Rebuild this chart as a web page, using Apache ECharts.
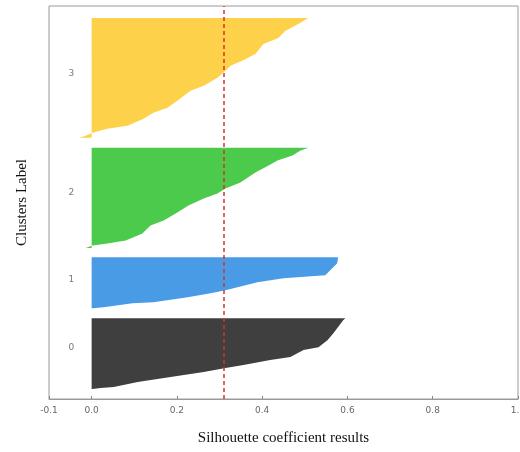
<!DOCTYPE html>
<html>
<head>
<meta charset="utf-8">
<script src="https://cdn.jsdelivr.net/npm/echarts@6/dist/echarts.min.js"></script>
<style>
  html, body { margin: 0; padding: 0; background: #fff; }
  #main { width: 520px; height: 452px; }
</style>
</head>
<body>
<div id="main"></div>
<script>
// silhouette profile of each cluster, [value, sample position] read bottom -> top
var cluster0 = [[0.002, 10], [0.021, 11], [0.052, 12], [0.108, 17], [0.185, 22], [0.263, 27], [0.314, 31],
  [0.356, 34], [0.419, 39], [0.466, 42], [0.497, 49], [0.532, 52], [0.553, 59], [0.567, 66], [0.590, 79], [0.595, 81]];
var cluster1 = [[0.002, 91], [0.028, 92], [0.096, 96], [0.145, 97], [0.225, 102], [0.279, 106], [0.314, 109],
  [0.342, 112], [0.389, 117], [0.450, 121], [0.548, 124], [0.576, 136], [0.578, 142]];
var cluster2 = [[-0.014, 151.5], [0.002, 154], [0.037, 156], [0.080, 159], [0.119, 166], [0.138, 174], [0.169, 179],
  [0.201, 187], [0.227, 194], [0.263, 201], [0.295, 206], [0.314, 211], [0.349, 217], [0.384, 227], [0.415, 234],
  [0.436, 239], [0.471, 244], [0.489, 249], [0.508, 252]];
var cluster3 = [[-0.030, 262], [-0.014, 264], [0.002, 267], [0.037, 271], [0.084, 274], [0.122, 281], [0.145, 287],
  [0.178, 292], [0.201, 299], [0.232, 309], [0.263, 314], [0.295, 322], [0.314, 329], [0.326, 334], [0.353, 339],
  [0.384, 346], [0.403, 356], [0.438, 362], [0.454, 369], [0.489, 377], [0.508, 382]];

var clusterNames = ['0', '1', '2', '3'];
var clusterLabelY = [51, 120, 207, 326];
var clusterColors = ['#3f3f3f', '#4a9be6', '#4cca4c', '#fdd24a'];
var avgScore = 0.313;
var xTicks = [-0.1, 0, 0.2, 0.4, 0.6, 0.8, 1.0];

var chart = echarts.init(document.getElementById('main'));

function clusterSeries(points, color) {
  return {
    type: 'custom',
    silent: true,
    data: [0],
    renderItem: function (params, api) {
      // fill between x = 0 and the sorted silhouette values
      var poly = [api.coord([0, points[0][1]])];
      points.forEach(function (p) { poly.push(api.coord(p)); });
      poly.push(api.coord([0, points[points.length - 1][1]]));
      return {
        type: 'polygon',
        shape: { points: poly },
        style: { fill: color }
      };
    }
  };
}

var series = [cluster0, cluster1, cluster2, cluster3].map(function (c, i) {
  return clusterSeries(c, clusterColors[i]);
});

// cluster names on the left of each block
series.push({
  type: 'scatter',
  silent: true,
  symbolSize: 0,
  data: clusterLabelY.map(function (y, i) { return { value: [-0.054, y], name: clusterNames[i] }; }),
  label: {
    show: true,
    position: 'inside',
    align: 'left',
    formatter: '{b}',
    fontFamily: 'DejaVu Sans',
    fontSize: 9,
    color: '#555'
  }
});

// average silhouette score
series.push({
  type: 'line',
  silent: true,
  data: [],
  markLine: {
    silent: true,
    symbol: 'none',
    label: { show: false },
    lineStyle: { color: '#d9302c', type: [4, 3], width: 1.5 },
    data: [{ xAxis: avgScore }]
  }
});

var option = {
  animation: false,
  grid: {
    left: 49, right: 2, top: 6, bottom: 53,
    outerBoundsMode: 'none',
    containLabel: false,
    show: true, borderColor: '#9a9a9a', borderWidth: 1
  },
  xAxis: {
    type: 'value',
    min: -0.1,
    max: 1.0,
    name: 'Silhouette coefficient results',
    nameLocation: 'middle',
    nameGap: 32,
    nameTextStyle: { fontFamily: 'Liberation Serif', fontSize: 15, color: '#111' },
    axisLine: { show: true, lineStyle: { color: '#9a9a9a' } },
    axisTick: { show: true, inside: true, length: 3, customValues: xTicks, lineStyle: { color: '#888' } },
    axisLabel: {
      customValues: xTicks,
      margin: 7,
      fontFamily: 'DejaVu Sans',
      fontSize: 9,
      color: '#666',
      formatter: function (v) { return v.toFixed(1); }
    },
    splitLine: { show: false }
  },
  yAxis: {
    type: 'value',
    min: 0,
    max: 394,
    name: 'Clusters Label',
    nameLocation: 'middle',
    nameGap: 19,
    nameTextStyle: { fontFamily: 'Liberation Serif', fontSize: 15, color: '#111' },
    axisLine: { show: false },
    axisTick: { show: false },
    axisLabel: { show: false },
    splitLine: { show: false }
  },
  series: series
};

chart.setOption(option);
</script>
</body>
</html>
